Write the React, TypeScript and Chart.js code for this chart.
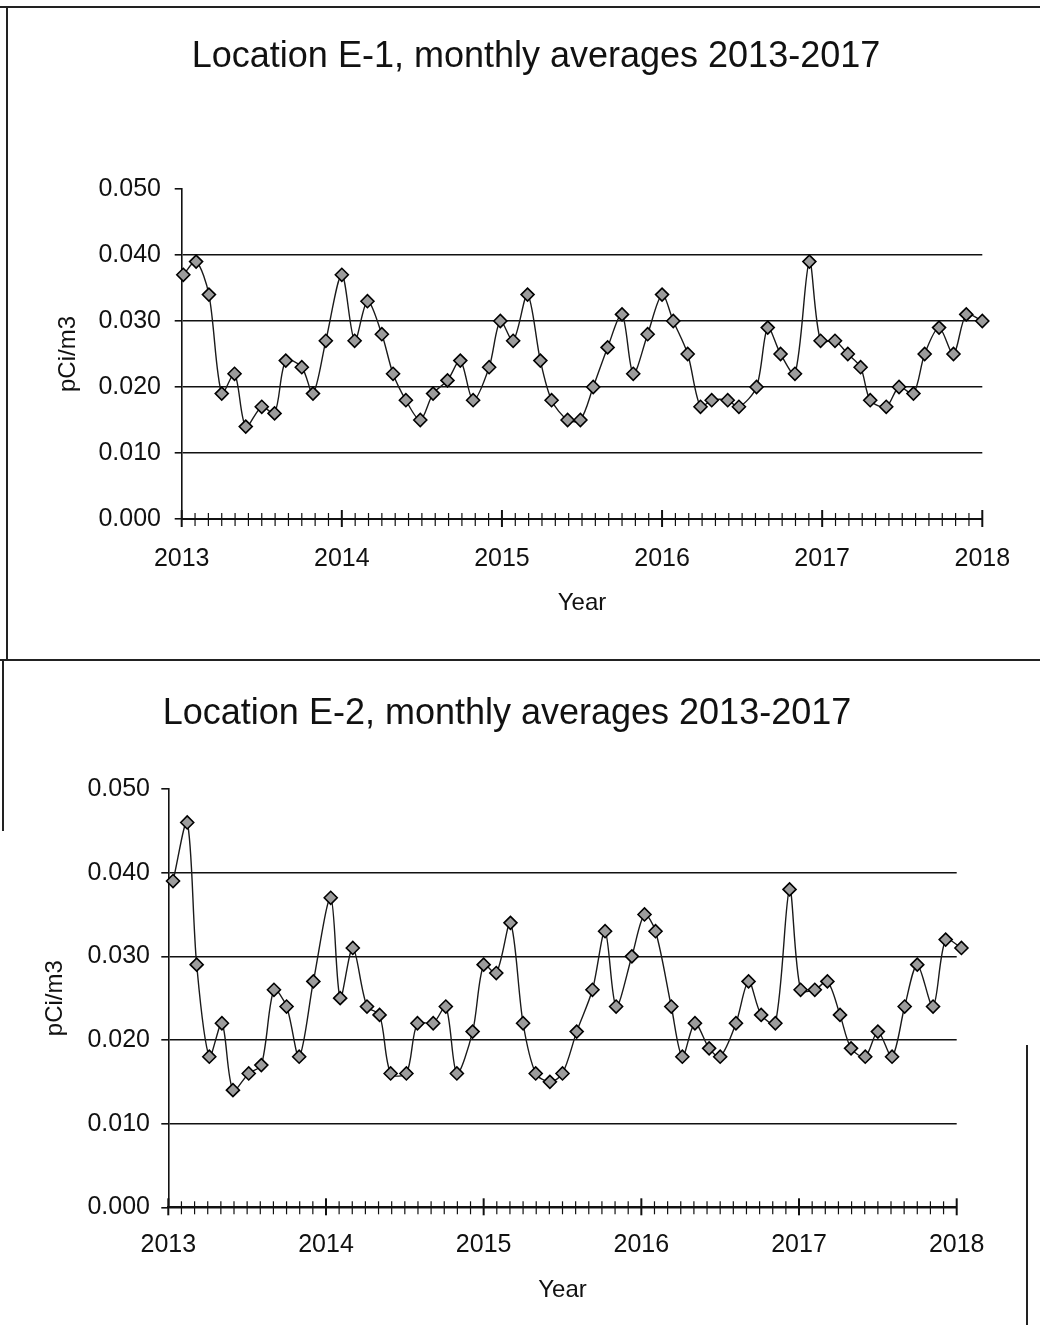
import React, { useEffect, useRef } from "react";
import { Chart, registerables } from "chart.js";

Chart.register(...registerables);

// ---- data ----
const e1Title = "Location E-1, monthly averages 2013-2017";
const e2Title = "Location E-2, monthly averages 2013-2017";
const xTitle = "Year";
const yTitle = "pCi/m3";

const yearTicks = [2013, 2014, 2015, 2016, 2017, 2018];
const valueTicks = [0, 0.01, 0.02, 0.03, 0.04, 0.05];

const e1Dates = [
  2013.01, 2013.09, 2013.17, 2013.25, 2013.33, 2013.4, 2013.5, 2013.58, 2013.65, 2013.75, 2013.82, 2013.9,
  2014.0, 2014.08, 2014.16, 2014.25, 2014.32, 2014.4, 2014.49, 2014.57, 2014.66, 2014.74, 2014.82, 2014.92,
  2014.99, 2015.07, 2015.16, 2015.24, 2015.31, 2015.41, 2015.49, 2015.57, 2015.66, 2015.75, 2015.82, 2015.91,
  2016.0, 2016.07, 2016.16, 2016.24, 2016.31, 2016.41, 2016.48, 2016.59, 2016.66, 2016.74, 2016.83, 2016.92,
  2016.99, 2017.08, 2017.16, 2017.24, 2017.3, 2017.4, 2017.48, 2017.57, 2017.64, 2017.73, 2017.82, 2017.9,
  2018.0,
];
const e1Values = [
  0.037, 0.039, 0.034, 0.019, 0.022, 0.014, 0.017, 0.016, 0.024, 0.023, 0.019, 0.027,
  0.037, 0.027, 0.033, 0.028, 0.022, 0.018, 0.015, 0.019, 0.021, 0.024, 0.018, 0.023,
  0.03, 0.027, 0.034, 0.024, 0.018, 0.015, 0.015, 0.02, 0.026, 0.031, 0.022, 0.028,
  0.034, 0.03, 0.025, 0.017, 0.018, 0.018, 0.017, 0.02, 0.029, 0.025, 0.022, 0.039,
  0.027, 0.027, 0.025, 0.023, 0.018, 0.017, 0.02, 0.019, 0.025, 0.029, 0.025, 0.031,
  0.03,
];

const e2Dates = [
  2013.03, 2013.12, 2013.18, 2013.26, 2013.34, 2013.41, 2013.51, 2013.59, 2013.67, 2013.75, 2013.83, 2013.92,
  2014.03, 2014.09, 2014.17, 2014.26, 2014.34, 2014.41, 2014.51, 2014.58, 2014.68, 2014.76, 2014.83, 2014.93,
  2015.0, 2015.08, 2015.17, 2015.25, 2015.33, 2015.42, 2015.5, 2015.59, 2015.69, 2015.77, 2015.84, 2015.94,
  2016.02, 2016.09, 2016.19, 2016.26, 2016.34, 2016.43, 2016.5, 2016.6, 2016.68, 2016.76, 2016.85, 2016.94,
  2017.01, 2017.1, 2017.18, 2017.26, 2017.33, 2017.42, 2017.5, 2017.59, 2017.67, 2017.75, 2017.85, 2017.93,
  2018.03,
];
const e2Values = [
  0.039, 0.046, 0.029, 0.018, 0.022, 0.014, 0.016, 0.017, 0.026, 0.024, 0.018, 0.027,
  0.037, 0.025, 0.031, 0.024, 0.023, 0.016, 0.016, 0.022, 0.022, 0.024, 0.016, 0.021,
  0.029, 0.028, 0.034, 0.022, 0.016, 0.015, 0.016, 0.021, 0.026, 0.033, 0.024, 0.03,
  0.035, 0.033, 0.024, 0.018, 0.022, 0.019, 0.018, 0.022, 0.027, 0.023, 0.022, 0.038,
  0.026, 0.026, 0.027, 0.023, 0.019, 0.018, 0.021, 0.018, 0.024, 0.029, 0.024, 0.032,
  0.031,
];

const FONT = "'Liberation Sans', Arial, sans-serif";
const INK = "#111";
const LABEL_SIZE = 25;

// cross-shaped monthly tick marks along the x axis
const monthTicksPlugin = {
  id: "monthTicks",
  afterDraw(chart: any) {
    const xs = chart.scales.x;
    const ctx = chart.ctx;
    const y0 = chart.chartArea.bottom;
    const first = yearTicks[0];
    const months = (yearTicks[yearTicks.length - 1] - first) * 12;
    ctx.save();
    ctx.strokeStyle = INK;
    for (let m = 0; m <= months; m++) {
      const px = xs.getPixelForValue(first + m / 12);
      const major = m % 12 === 0;
      ctx.lineWidth = major ? 2 : 1.2;
      ctx.beginPath();
      ctx.moveTo(px, y0 - (major ? 9 : 6));
      ctx.lineTo(px, y0 + (major ? 8 : 7));
      ctx.stroke();
    }
    ctx.restore();
  },
};

type PanelProps = {
  dates: number[];
  values: number[];
  width: number;
  height: number;
  padTop: number;
  padRight: number;
  yAxisWidth: number;
  xAxisHeight: number;
  yTickPad: number;
  yTitlePad: number;
  xTickPad: number;
  xTitlePad: number;
};

function Panel(p: PanelProps) {
  const ref = useRef<HTMLCanvasElement | null>(null);
  useEffect(() => {
    if (!ref.current) return;
    const chart = new Chart(ref.current, {
      type: "line",
      data: {
        datasets: [
          {
            data: p.dates.map((d, i) => ({ x: d, y: p.values[i] })),
            borderColor: "#1a1a1a",
            borderWidth: 1.4,
            tension: 0.3,
            pointStyle: "rectRot",
            pointRadius: 6.5,
            pointBackgroundColor: "#9c9c9c",
            pointBorderColor: "#000",
            pointBorderWidth: 1.6,
            clip: false as any,
          },
        ],
      },
      options: {
        responsive: false,
        animation: false,
        layout: { padding: { top: p.padTop, right: p.padRight, bottom: 0, left: 0 } },
        plugins: { legend: { display: false }, tooltip: { enabled: false }, title: { display: false } },
        scales: {
          x: {
            type: "linear",
            min: yearTicks[0],
            max: yearTicks[yearTicks.length - 1],
            afterBuildTicks: (s: any) => {
              s.ticks = yearTicks.map((v) => ({ value: v }));
            },
            afterFit: (s: any) => {
              s.height = p.xAxisHeight;
            },
            grid: { display: false },
            border: { display: true, color: INK, width: 2 },
            ticks: {
              padding: p.xTickPad,
              color: INK,
              font: { family: FONT, size: LABEL_SIZE },
              maxRotation: 0,
              autoSkip: false,
              callback: (v: any) => String(Math.round(Number(v))),
            },
            title: {
              display: true,
              text: xTitle,
              color: INK,
              font: { family: FONT, size: 24 },
              padding: { top: 0, bottom: p.xTitlePad },
            },
          },
          y: {
            type: "linear",
            min: valueTicks[0],
            max: valueTicks[valueTicks.length - 1],
            afterBuildTicks: (s: any) => {
              s.ticks = valueTicks.map((v) => ({ value: v }));
            },
            afterFit: (s: any) => {
              s.width = p.yAxisWidth;
            },
            grid: {
              display: true,
              drawTicks: true,
              tickLength: 7,
              lineWidth: 1.6,
              color: (c: any) =>
                c.tick && c.tick.value > valueTicks[valueTicks.length - 1] - 1e-9 ? "rgba(0,0,0,0)" : INK,
              tickColor: INK,
            },
            border: { display: true, color: INK, width: 1.6 },
            ticks: {
              padding: p.yTickPad,
              color: INK,
              font: { family: FONT, size: LABEL_SIZE },
              callback: (v: any) => Number(v).toFixed(3),
            },
            title: {
              display: true,
              text: yTitle,
              color: INK,
              font: { family: FONT, size: 24 },
              padding: { top: p.yTitlePad, bottom: 0 },
            },
          },
        },
      } as any,
      plugins: [monthTicksPlugin],
    });
    return () => chart.destroy();
  }, []);
  return <canvas ref={ref} width={p.width} height={p.height} style={{ display: "block" }} />;
}

const line = (s: React.CSSProperties): React.CSSProperties => ({
  position: "absolute",
  background: "#222",
  ...s,
});

const titleStyle = (cx: number, top: number): React.CSSProperties => ({
  position: "absolute",
  left: cx,
  top,
  transform: "translateX(-50%)",
  whiteSpace: "nowrap",
  fontFamily: FONT,
  fontSize: 36,
  lineHeight: "36px",
  color: INK,
});

export default function App() {
  return (
    <div
      style={{
        position: "absolute",
        left: 0,
        top: 0,
        width: 1040,
        height: 1325,
        background: "#fff",
        overflow: "hidden",
      }}
    >
      <div style={{ position: "absolute", left: 0, top: 0 }}>
        <Panel
          dates={e1Dates}
          values={e1Values}
          width={1040}
          height={660}
          padTop={189}
          padRight={57.7}
          yAxisWidth={181.7}
          xAxisHeight={141}
          yTickPad={13.7}
          yTitlePad={53.6}
          xTickPad={17}
          xTitlePad={42.6}
        />
      </div>
      <div style={{ position: "absolute", left: 0, top: 660 }}>
        <Panel
          dates={e2Dates}
          values={e2Values}
          width={1040}
          height={665}
          padTop={129}
          padRight={83.3}
          yAxisWidth={168.3}
          xAxisHeight={117.7}
          yTickPad={11.3}
          yTitlePad={40.6}
          xTickPad={14.7}
          xTitlePad={20.6}
        />
      </div>
      <div style={titleStyle(536, 37.4)}>{e1Title}</div>
      <div style={titleStyle(507, 694.4)}>{e2Title}</div>
      {/* scanned panel frames */}
      <div style={line({ left: 0, top: 6, width: 1040, height: 2 })} />
      <div style={line({ left: 6, top: 6, width: 2, height: 654 })} />
      <div style={line({ left: 0, top: 659, width: 1040, height: 2 })} />
      <div style={line({ left: 2, top: 659, width: 2, height: 172 })} />
      <div style={line({ left: 1026, top: 1045, width: 2, height: 280 })} />
    </div>
  );
}
